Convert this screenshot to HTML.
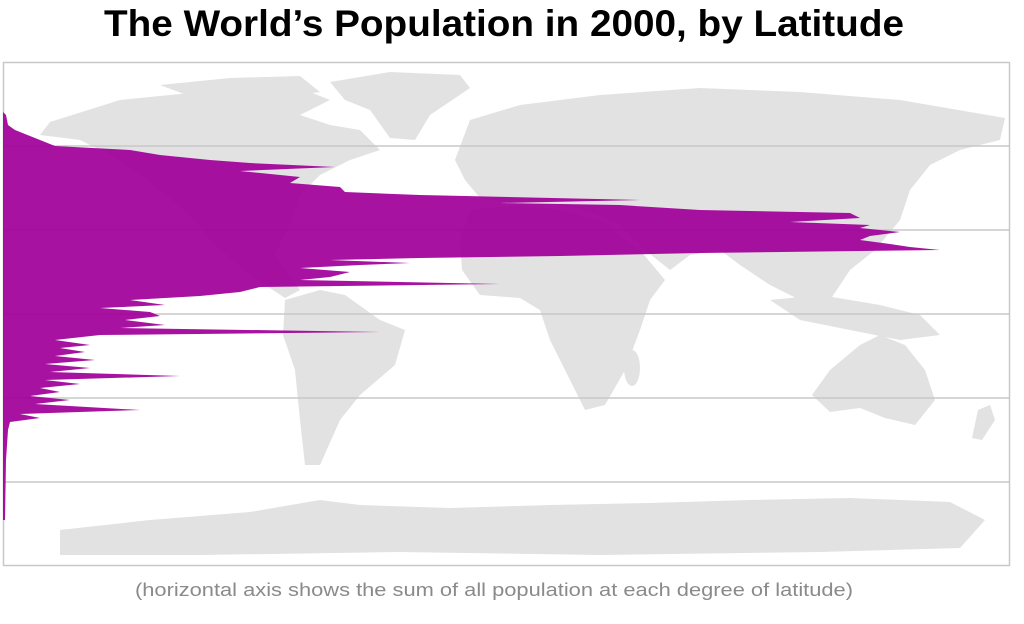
<!DOCTYPE html>
<html><head><meta charset="utf-8"><style>
html,body{margin:0;padding:0;background:#fff;}
svg{display:block;}
</style></head><body>
<svg width="1024" height="624" viewBox="0 0 1024 624" xmlns="http://www.w3.org/2000/svg">
<rect width="1024" height="624" fill="#fff"/>
<text x="504" y="36" text-anchor="middle" font-family="Liberation Sans, sans-serif" font-weight="bold" font-size="37" textLength="800" lengthAdjust="spacingAndGlyphs" fill="#000">The World’s Population in 2000, by Latitude</text>
<g fill="#e2e2e2">
<polygon points="50,122 120,100 200,92 300,88 330,100 300,115 330,125 360,130 380,150 350,160 320,175 300,195 290,225 275,255 300,290 285,298 250,275 215,245 190,215 160,190 120,160 80,140 40,135"/>
<polygon points="160,85 230,78 300,76 320,92 260,100 200,100"/>
<polygon points="330,82 390,72 460,75 470,88 430,115 415,140 390,138 370,110 345,100"/>
<polygon points="285,300 320,290 345,295 380,320 405,330 395,365 360,395 340,420 320,465 305,465 300,420 295,370 283,335"/>
<polygon points="455,160 470,120 520,105 600,95 700,88 800,92 900,100 1005,118 1000,140 960,150 930,165 910,190 900,220 875,250 850,270 830,300 800,300 770,285 740,265 720,250 690,255 670,270 645,250 620,225 590,212 560,205 520,205 480,198 465,180"/>
<polygon points="470,210 520,205 560,210 600,220 640,250 665,280 650,300 640,330 625,370 605,405 585,410 570,380 550,340 540,310 520,298 480,295 462,270 460,240"/>
<ellipse cx="632" cy="368" rx="8" ry="18"/>
<polygon points="770,300 820,295 880,305 920,315 940,335 900,340 850,330 800,320"/>
<polygon points="830,370 860,345 880,335 905,345 925,370 935,400 915,425 885,418 860,408 830,412 812,395"/>
<polygon points="978,410 990,405 995,420 982,440 972,438"/>
<polygon points="60,530 150,520 250,512 320,500 360,505 450,508 550,505 650,503 750,500 850,498 950,502 985,520 960,548 820,552 600,555 400,552 200,555 60,555"/>
</g>
<g stroke="#c8c8c8" stroke-width="1.5" fill="none">
<rect x="3.5" y="62.5" width="1006" height="503"/>
<line x1="3" y1="146" x2="1010" y2="146"/>
<line x1="3" y1="230" x2="1010" y2="230"/>
<line x1="3" y1="314" x2="1010" y2="314"/>
<line x1="3" y1="398" x2="1010" y2="398"/>
<line x1="3" y1="482" x2="1010" y2="482"/>
</g>
<polygon fill="#a0009a" fill-opacity="0.93" points="3,112 6,115 8,125 15,130 40,140 55,146 130,150 160,155 210,160 250,163 335,167 240,171 300,177 290,183 340,187 345,192 420,195 640,200 500,203 620,205 700,210 850,213 860,218 790,222 870,225 860,228 900,232 870,236 860,240 890,244 910,247 940,250 700,253 560,256 420,258 330,260 410,263 360,265 300,268 350,272 330,277 300,280 500,284 260,287 240,292 200,296 130,300 165,305 100,308 150,312 160,316 125,320 165,325 120,328 380,332 100,335 55,340 90,345 60,348 85,352 55,356 95,360 45,364 90,368 50,372 180,376 45,380 80,384 40,388 60,392 30,396 70,400 35,404 140,410 20,414 40,418 10,422 8,430 6,460 5,520 3,520"/>
<text x="494" y="596" text-anchor="middle" font-family="Liberation Sans, sans-serif" font-size="18" textLength="718" lengthAdjust="spacingAndGlyphs" fill="#8a8a8a">(horizontal axis shows the sum of all population at each degree of latitude)</text>
</svg>
</body></html>
